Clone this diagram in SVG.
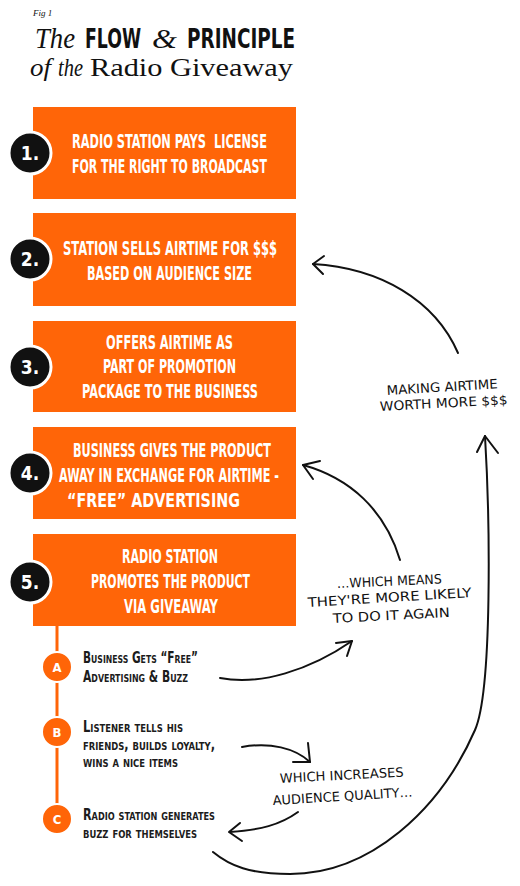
<svg xmlns="http://www.w3.org/2000/svg" width="520" height="886" viewBox="0 0 520 886">
<defs>
<style>
.serif{font-family:"Liberation Serif","DejaVu Serif",serif;fill:#111}
.it{font-style:italic}
.cond{font-family:"Liberation Sans Narrow","DejaVu Sans Condensed","DejaVu Sans",sans-serif;font-stretch:condensed;font-weight:bold}
.box{fill:#FF6508}
.bt{fill:#fff;font-size:20px}
.num{fill:#111;stroke:#fff;stroke-width:3}
.nt{fill:#fff;font-size:19px;text-anchor:middle}
.sub{fill:#FF6508;stroke:#fff;stroke-width:2}
.st{fill:#fff;font-size:13px;text-anchor:middle}
.side{fill:#1c1c1c;font-size:15px;font-variant:small-caps}
.hand{font-family:"DejaVu Sans Condensed","DejaVu Sans",sans-serif;font-stretch:condensed;font-size:13px;fill:#111}
.ln{fill:none;stroke:#111;stroke-width:2;stroke-linecap:round;stroke-linejoin:round}
</style>
</defs>
<rect width="520" height="886" fill="#fff"/>

<g id="title">
<text class="serif it" x="33" y="16" font-size="9">Fig 1</text>
<text class="serif it" x="35" y="48" font-size="29" textLength="40" lengthAdjust="spacingAndGlyphs">The</text>
<text class="cond" x="85" y="48" font-size="27" fill="#111" textLength="56" lengthAdjust="spacingAndGlyphs">FLOW</text>
<text class="serif it" x="152" y="48" font-size="27" textLength="25" lengthAdjust="spacingAndGlyphs">&amp;</text>
<text class="cond" x="187" y="48" font-size="27" fill="#111" textLength="108" lengthAdjust="spacingAndGlyphs">PRINCIPLE</text>
<text class="serif it" x="30" y="76" font-size="26" textLength="21" lengthAdjust="spacingAndGlyphs">of</text>
<text class="serif it" x="58" y="76" font-size="26" textLength="25" lengthAdjust="spacingAndGlyphs">the</text>
<text class="serif" x="90" y="76" font-size="26" textLength="203" lengthAdjust="spacingAndGlyphs">Radio Giveaway</text>
</g>

<g id="step1">
<rect class="box" x="33" y="107" width="263" height="92"/>
<text class="cond bt" x="72" y="148" textLength="195" lengthAdjust="spacingAndGlyphs" xml:space="preserve">RADIO STATION PAYS  LICENSE</text>
<text class="cond bt" x="72" y="173" textLength="195" lengthAdjust="spacingAndGlyphs">FOR THE RIGHT TO BROADCAST</text>
<circle class="num" cx="30" cy="153" r="21"/>
<text class="cond nt" x="30" y="160">1.</text>
</g>

<g id="step2">
<rect class="box" x="33" y="213" width="263" height="93"/>
<text class="cond bt" x="63" y="255" textLength="214" lengthAdjust="spacingAndGlyphs">STATION SELLS AIRTIME FOR $$$</text>
<text class="cond bt" x="87" y="280" textLength="165" lengthAdjust="spacingAndGlyphs">BASED ON AUDIENCE SIZE</text>
<circle class="num" cx="30" cy="259" r="21"/>
<text class="cond nt" x="30" y="266">2.</text>
</g>

<g id="step3">
<rect class="box" x="33" y="321" width="263" height="91"/>
<text class="cond bt" x="106" y="349" textLength="127" lengthAdjust="spacingAndGlyphs">OFFERS AIRTIME AS</text>
<text class="cond bt" x="103" y="373" textLength="133" lengthAdjust="spacingAndGlyphs">PART OF PROMOTION</text>
<text class="cond bt" x="82" y="398" textLength="176" lengthAdjust="spacingAndGlyphs">PACKAGE TO THE BUSINESS</text>
<circle class="num" cx="30" cy="367" r="21"/>
<text class="cond nt" x="30" y="374">3.</text>
</g>

<g id="step4">
<rect class="box" x="33" y="427" width="263" height="92"/>
<text class="cond bt" x="73" y="457" textLength="198" lengthAdjust="spacingAndGlyphs">BUSINESS GIVES THE PRODUCT</text>
<text class="cond bt" x="59" y="482" textLength="220" lengthAdjust="spacingAndGlyphs">AWAY IN EXCHANGE FOR AIRTIME -</text>
<text class="cond bt" x="67" y="507" textLength="173" lengthAdjust="spacingAndGlyphs">“FREE” ADVERTISING</text>
<circle class="num" cx="30" cy="473" r="21"/>
<text class="cond nt" x="30" y="480">4.</text>
</g>

<g id="step5">
<rect class="box" x="33" y="534" width="263" height="92"/>
<text class="cond bt" x="122" y="563" textLength="96" lengthAdjust="spacingAndGlyphs">RADIO STATION</text>
<text class="cond bt" x="91" y="588" textLength="159" lengthAdjust="spacingAndGlyphs">PROMOTES THE PRODUCT</text>
<text class="cond bt" x="124" y="613" textLength="94" lengthAdjust="spacingAndGlyphs">VIA GIVEAWAY</text>
<circle class="num" cx="30" cy="582" r="21"/>
<text class="cond nt" x="30" y="589">5.</text>
</g>

<g id="timeline">
<line x1="57" y1="626" x2="57" y2="819" stroke="#FF6508" stroke-width="3"/>
</g>

<g id="outcomeA">
<circle class="sub" cx="57" cy="667" r="15"/>
<text class="cond st" x="57" y="672">A</text>
<text class="cond side" x="83" y="663" textLength="115" lengthAdjust="spacingAndGlyphs">Business Gets “Free”</text>
<text class="cond side" x="83" y="682" textLength="105" lengthAdjust="spacingAndGlyphs">Advertising &amp; Buzz</text>
</g>

<g id="outcomeB">
<circle class="sub" cx="57" cy="732" r="15"/>
<text class="cond st" x="57" y="737">B</text>
<text class="cond side" x="83" y="732" textLength="100" lengthAdjust="spacingAndGlyphs">Listener tells his</text>
<text class="cond side" x="83" y="750" textLength="132" lengthAdjust="spacingAndGlyphs">friends, builds loyalty,</text>
<text class="cond side" x="83" y="767" textLength="95" lengthAdjust="spacingAndGlyphs">wins a nice items</text>
</g>

<g id="outcomeC">
<circle class="sub" cx="57" cy="819" r="15"/>
<text class="cond st" x="57" y="824">C</text>
<text class="cond side" x="83" y="820" textLength="132" lengthAdjust="spacingAndGlyphs">Radio station generates</text>
<text class="cond side" x="83" y="838" textLength="114" lengthAdjust="spacingAndGlyphs">buzz for themselves</text>
</g>

<g id="note-airtime">
<text class="hand" x="387" y="395" transform="rotate(-3.5 387 395)" textLength="111" lengthAdjust="spacingAndGlyphs">MAKING AIRTIME</text>
<text class="hand" x="380" y="411" transform="rotate(-3 380 411)" textLength="128" lengthAdjust="spacingAndGlyphs">WORTH MORE $$$</text>
</g>

<g id="note-again">
<text class="hand" x="337" y="588" transform="rotate(-2.5 337 588)" textLength="105" lengthAdjust="spacingAndGlyphs">…WHICH MEANS</text>
<text class="hand" x="308" y="607" transform="rotate(-3.5 308 607)" textLength="164" lengthAdjust="spacingAndGlyphs">THEY'RE MORE LIKELY</text>
<text class="hand" x="333" y="623" transform="rotate(-3 333 623)" textLength="117" lengthAdjust="spacingAndGlyphs">TO DO IT AGAIN</text>
</g>

<g id="note-quality">
<text class="hand" x="280" y="783" transform="rotate(-3 280 783)" textLength="124" lengthAdjust="spacingAndGlyphs">WHICH INCREASES</text>
<text class="hand" x="273" y="805" transform="rotate(-3.5 273 805)" textLength="140" lengthAdjust="spacingAndGlyphs">AUDIENCE QUALITY…</text>
</g>

<g id="connectors">
<path class="ln" d="M458,353 C435,300 380,268 313,264"/>
<path class="ln" d="M324,256 L313,264 L323,274"/>
<path class="ln" d="M400,560 C385,510 350,478 303,465"/>
<path class="ln" d="M320,461 L303,465 L313,479"/>
<path class="ln" d="M213,852 C230,866 250,874 290,874 C370,874 440,810 475,730 C492.5,690 490,520 485,436"/>
<path class="ln" d="M477,452 L485,436 L498,453"/>
<path class="ln" d="M220,678 C260,686 310,670 352,641"/>
<path class="ln" d="M336,643 L352,641 L347,656"/>
<path class="ln" d="M242,747 C270,742 295,748 310,762"/>
<path class="ln" d="M308,743 L310,762 L293,762"/>
<path class="ln" d="M298,812 C280,825 260,830 230,832"/>
<path class="ln" d="M240,823 L229,832 L242,841"/>
</g>
</svg>
